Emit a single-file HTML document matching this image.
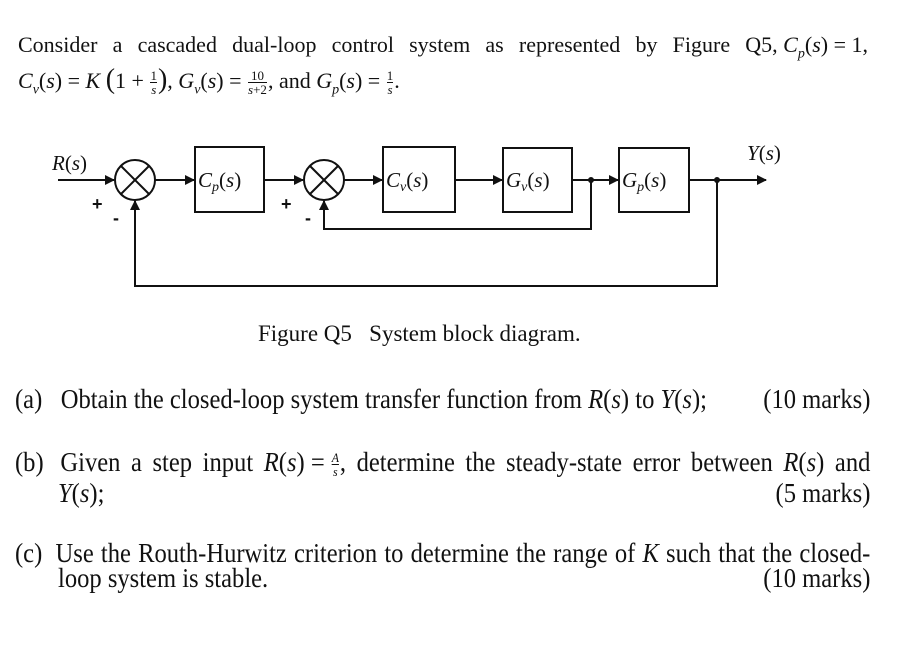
<!DOCTYPE html>
<html><head><meta charset="utf-8">
<style>
body{margin:0;width:906px;height:650px;background:#fff;position:relative;overflow:hidden;font-family:"Liberation Serif",serif;color:#111}
.t{position:absolute;white-space:nowrap;font-size:22px;line-height:1}
i{font-style:italic}
.c{position:absolute;font-size:27px;line-height:1;transform-origin:0 0;transform:scaleX(0.91);white-space:nowrap}
.fr{display:inline-block;vertical-align:middle;text-align:center;font-size:13px;line-height:1.05;margin:0 1px}
.fr span{display:block}
.fr span:first-child{border-bottom:1px solid #111}
</style></head><body>
<div class="t" style="left:18px;top:34px;width:850px;display:flex;justify-content:space-between">
<span>Consider</span><span>a</span><span>cascaded</span><span>dual-loop</span><span>control</span><span>system</span><span>as</span><span>represented</span><span>by</span><span>Figure</span><span>Q5,&nbsp;<i>C<sub style="font-size:14px">p</sub></i>(<i>s</i>) = 1,</span></div>
<div class="t" style="left:18px;top:66px"><i>C<sub style="font-size:14px">v</sub></i>(<i>s</i>) = <i>K</i> <span style="font-size:28px">(</span>1 + <span class="fr"><span>1</span><span><i>s</i></span></span><span style="font-size:28px">)</span>, <i>G<sub style="font-size:14px">v</sub></i>(<i>s</i>) = <span class="fr"><span>10</span><span><i>s</i>+2</span></span>, and <i>G<sub style="font-size:14px">p</sub></i>(<i>s</i>) = <span class="fr"><span>1</span><span><i>s</i></span></span>.</div>

<svg style="position:absolute;left:0;top:0" width="906" height="650" viewBox="0 0 906 650">
<defs><marker id="a" markerWidth="10" markerHeight="10" refX="9" refY="5" orient="auto" markerUnits="userSpaceOnUse"><path d="M0,0 L10,5 L0,10 Z" fill="#111"/></marker></defs>
<g stroke="#111" stroke-width="2" fill="none">
<line x1="58" y1="180" x2="114" y2="180" marker-end="url(#a)"/>
<circle cx="135" cy="180" r="20"/>
<line x1="121" y1="166" x2="149" y2="194"/><line x1="149" y1="166" x2="121" y2="194"/>
<line x1="155" y1="180" x2="194" y2="180" marker-end="url(#a)"/>
<rect x="195" y="147" width="69" height="65"/>
<line x1="264" y1="180" x2="303" y2="180" marker-end="url(#a)"/>
<circle cx="324" cy="180" r="20"/>
<line x1="310" y1="166" x2="338" y2="194"/><line x1="338" y1="166" x2="310" y2="194"/>
<line x1="344" y1="180" x2="382" y2="180" marker-end="url(#a)"/>
<rect x="383" y="147" width="72" height="65"/>
<line x1="455" y1="180" x2="502" y2="180" marker-end="url(#a)"/>
<rect x="503" y="148" width="69" height="64"/>
<line x1="572" y1="180" x2="618" y2="180" marker-end="url(#a)"/>
<rect x="619" y="148" width="70" height="64"/>
<line x1="689" y1="180" x2="766" y2="180" marker-end="url(#a)"/>
<polyline points="591,180 591,229 324,229 324,201" marker-end="url(#a)"/>
<polyline points="717,180 717,286 135,286 135,201" marker-end="url(#a)"/>
</g>
<circle cx="591" cy="180" r="3" fill="#111"/><circle cx="717" cy="180" r="3" fill="#111"/>
<g font-family="Liberation Serif,serif" font-size="21" fill="#111">
<text x="52" y="170"><tspan font-style="italic">R</tspan>(<tspan font-style="italic">s</tspan>)</text>
<text x="198" y="187"><tspan font-style="italic">C</tspan><tspan font-size="14" font-style="italic" dy="4">p</tspan><tspan dy="-4">(</tspan><tspan font-style="italic">s</tspan>)</text>
<text x="386" y="187"><tspan font-style="italic">C</tspan><tspan font-size="14" font-style="italic" dy="4">v</tspan><tspan dy="-4">(</tspan><tspan font-style="italic">s</tspan>)</text>
<text x="506" y="187"><tspan font-style="italic">G</tspan><tspan font-size="14" font-style="italic" dy="4">v</tspan><tspan dy="-4">(</tspan><tspan font-style="italic">s</tspan>)</text>
<text x="622" y="187"><tspan font-style="italic">G</tspan><tspan font-size="14" font-style="italic" dy="4">p</tspan><tspan dy="-4">(</tspan><tspan font-style="italic">s</tspan>)</text>
<text x="747" y="160"><tspan font-style="italic">Y</tspan>(<tspan font-style="italic">s</tspan>)</text>
</g>
<g font-family="Liberation Sans,sans-serif" font-weight="bold" font-size="18" fill="#111">
<text x="92" y="210">+</text><text x="113" y="224">-</text>
<text x="281" y="210">+</text><text x="305" y="224">-</text>
</g>
</svg>

<div class="t" style="left:258px;top:322px;font-size:23px">Figure Q5&nbsp;&nbsp; System block diagram.</div>

<div class="c" style="left:15px;top:386px;width:940px;display:flex;justify-content:space-between"><span>(a)&nbsp;&nbsp; Obtain the closed-loop system transfer function from <i>R</i>(<i>s</i>) to <i>Y</i>(<i>s</i>);</span><span>(10 marks)</span></div>
<div class="c" style="left:15px;top:449px;width:940px;display:flex;justify-content:space-between"><span>(b)&nbsp;</span><span>Given</span><span>a</span><span>step</span><span>input</span><span><i>R</i>(<i>s</i>) = <span class="fr"><span><i>A</i></span><span><i>s</i></span></span>,</span><span>determine</span><span>the</span><span>steady-state</span><span>error</span><span>between</span><span><i>R</i>(<i>s</i>)</span><span>and</span></div>
<div class="c" style="left:15px;top:480px;width:940px;display:flex;justify-content:space-between"><span>&nbsp;&nbsp;&nbsp;&nbsp;&nbsp;&nbsp;&nbsp;<i>Y</i>(<i>s</i>);</span><span>(5 marks)</span></div>
<div class="c" style="left:15px;top:540px;width:940px;display:flex;justify-content:space-between"><span>(c)&nbsp;</span><span>Use</span><span>the</span><span>Routh-Hurwitz</span><span>criterion</span><span>to</span><span>determine</span><span>the</span><span>range</span><span>of</span><span><i>K</i></span><span>such</span><span>that</span><span>the</span><span>closed-</span></div>
<div class="c" style="left:15px;top:565px;width:940px;display:flex;justify-content:space-between"><span>&nbsp;&nbsp;&nbsp;&nbsp;&nbsp;&nbsp;&nbsp;loop system is stable.</span><span>(10 marks)</span></div>
</body></html>
